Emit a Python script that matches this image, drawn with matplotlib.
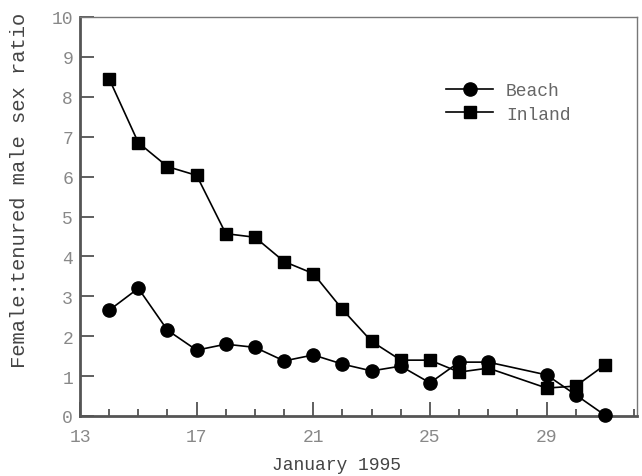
import matplotlib.pyplot as plt
from matplotlib.ticker import MultipleLocator


# data (day of January 1995)
days = [14, 15, 16, 17, 18, 19, 20, 21, 22, 23, 24, 25, 26, 27, 29, 30, 31]

beach = [2.65, 3.2, 2.15, 1.65, 1.8, 1.72, 1.38, 1.53, 1.3, 1.13,
         1.25, 0.83, 1.35, 1.35, 1.03, 0.53, 0.02]

inland = [8.45, 6.85, 6.25, 6.03, 4.57, 4.48, 3.87, 3.57, 2.67, 1.87,
          1.4, 1.4, 1.1, 1.2, 0.7, 0.75, 1.28]

x_ticks = [13, 17, 21, 25, 29]
y_ticks = list(range(0, 11))


# =========================================================
# PLOT
# =========================================================

plt.rcParams['font.family'] = ['Liberation Mono', 'DejaVu Sans Mono']

fig = plt.figure(figsize=(6.42, 4.77), dpi=100)

ax = fig.add_axes([80 / 642, 1 - 417 / 477, 557 / 642, 399 / 477])

ax.plot(days, beach, color='black', linewidth=1.2,
        marker='o', markersize=9.5, label='Beach', clip_on=False, zorder=3)

ax.plot(days, inland, color='black', linewidth=1.2,
        marker='s', markersize=8, label='Inland', clip_on=False, zorder=3)

ax.set_xlim(13, 32.1)
ax.set_ylim(0, 10)

ax.set_xticks(x_ticks)
ax.xaxis.set_minor_locator(MultipleLocator(1))
ax.set_yticks(y_ticks)

ax.tick_params(axis='x', which='major', direction='in', length=10,
               width=1.2, color='#444444', labelcolor='#888888',
               labelsize=13, pad=9)
ax.tick_params(axis='x', which='minor', direction='in', length=5,
               width=1.2, color='#444444')
ax.tick_params(axis='y', direction='in', length=10, width=1.2,
               color='#444444', labelcolor='#888888', labelsize=13, pad=5)

for side in ['left', 'bottom']:
    ax.spines[side].set_linewidth(2)
    ax.spines[side].set_color('#555555')

for side in ['top', 'right']:
    ax.spines[side].set_linewidth(1)
    ax.spines[side].set_color('#777777')

ax.legend(loc='upper left', bbox_to_anchor=(430 / 642, 1 - 67 / 477),
          bbox_transform=fig.transFigure, frameon=False, fontsize=13,
          handlelength=2.6, handletextpad=0.7, labelspacing=0.35,
          labelcolor='#666666')

fig.text(20 / 642, 1 - 368 / 477, 'Female:tenured male sex ratio',
         rotation=90, ha='center', va='bottom', fontsize=14.8,
         color='#444444')

fig.text(337 / 642, 1 - 466 / 477, 'January 1995',
         ha='center', va='center', fontsize=13, color='#444444')

fig.savefig('out.png', dpi=100)
